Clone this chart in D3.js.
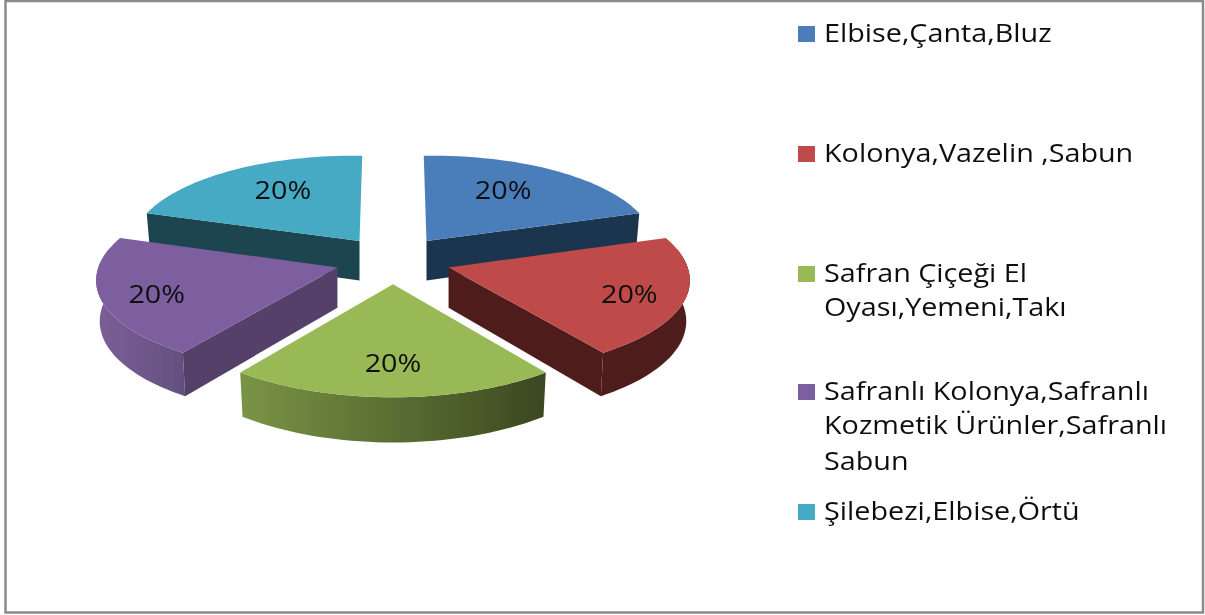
<!DOCTYPE html>
<html>
<head>
<meta charset="utf-8">
<script src="https://cdn.jsdelivr.net/npm/d3@7"></script>
<style>
  html, body { margin: 0; padding: 0; background: #fff; }
  svg { display: block; }
  text { font-family: "Open Sans", sans-serif; fill: #111; }
</style>
</head>
<body>
<svg></svg>
<script>
const categories = [
    ['Elbise,Çanta,Bluz'],
    ['Kolonya,Vazelin ,Sabun'],
    ['Safran Çiçeği El', 'Oyası,Yemeni,Takı'],
    ['Safranlı Kolonya,Safranlı', 'Kozmetik Ürünler,Safranlı', 'Sabun'],
    ['Şilebezi,Elbise,Örtü']
];
const values = [20, 20, 20, 20, 20];
const percentLabels = ['20%', '20%', '20%', '20%', '20%'];

const topColors = ['#4a7ebb', '#be4b48', '#98b954', '#7d5f9f', '#46aac4'];
const edgeColors = ['#1f3550', '#4f1f1e', '#3d4c22', '#55416a', '#1d444f'];
const rimFrom = ['#1f3550', '#4f1f1e', '#7a9445', '#7b5f98', '#1d444f'];
const rimTo = ['#1f3550', '#4f1f1e', '#3a4820', '#64507f', '#1d444f'];
const labelRadius = [0.6, 0.78, 0.7, 0.78, 0.6];
const labelDrop = [1, 12, 12, 12, 1];
const legendBaselines = [[42], [162], [282, 316], [400, 434, 470], [520]];

const svgWidth = 1205;
const svgHeight = 615;
const center = { x: 393, y: 260 };
const R = 235;
const tilt = 0.41;
const persp = 0.000386;
const depth = 40;
const explode = 58;
const rimBulge = 0.015;
const textStretch = 1.15;

const svg = d3.select('svg')
    .attr('width', svgWidth)
    .attr('height', svgHeight);

const defs = svg.append('defs');

defs.append('filter')
    .attr('id', 'soft')
    .attr('x', 0).attr('y', 0).attr('width', 1).attr('height', 1)
    .append('feGaussianBlur')
    .attr('stdDeviation', 0.5);

const chart = svg.append('g').attr('filter', 'url(#soft)');

chart.append('rect')
    .attr('width', svgWidth)
    .attr('height', svgHeight)
    .attr('fill', '#fff');

// outer frame
chart.append('rect')
    .attr('x', 5.5)
    .attr('y', 1)
    .attr('width', 1197.5)
    .attr('height', 611.5)
    .attr('fill', '#fff')
    .attr('stroke', '#8a8a8a')
    .attr('stroke-width', 2.5);

const slices = d3.pie().sort(null).startAngle(0).endAngle(2 * Math.PI)(values);

// pie plane to screen, seen in perspective. mid is the slice direction, r the fraction of the radius
function project(mid, a, r) {
    const X = explode * Math.sin(mid) + R * r * Math.sin(a);
    const Y = explode * Math.cos(mid) + R * r * Math.cos(a);
    const s = 1 / (1 + persp * Y);
    return { x: center.x + X * s, y: center.y - tilt * Y * s, s };
}

function topPoint(mid, a, r) {
    const p = project(mid, a, r);
    return [p.x, p.y];
}

function bottomPoint(mid, a, r) {
    const p = project(mid, a, r);
    const apex = project(mid, a, 0);
    return [apex.x + (p.x - apex.x) * 0.985, p.y + depth * p.s];
}

const line = d3.line();

slices.forEach(d => {
    d.mid = (d.startAngle + d.endAngle) / 2;
});

// back slices first so the front ones cover them
const drawOrder = [4, 0, 3, 1, 2];

chart.selectAll('.slice')
    .data(drawOrder)
    .enter().append('g')
    .attr('class', 'slice')
    .each(function(i) {
        const d = slices[i];
        const g = d3.select(this);
        const arcPoints = d3.range(0, 41).map(k => ({
            a: d.startAngle + (d.endAngle - d.startAngle) * k / 40,
            r: 1 + rimBulge * Math.sin(Math.PI * k / 40)
        }));

        const pts = arcPoints.map(p => topPoint(d.mid, p.a, p.r));
        const xExtent = d3.extent(pts, p => p[0]);
        const grad = defs.append('linearGradient')
            .attr('id', 'rim' + i)
            .attr('gradientUnits', 'userSpaceOnUse')
            .attr('x1', xExtent[0])
            .attr('x2', xExtent[1])
            .attr('y1', 0)
            .attr('y2', 0);
        grad.append('stop').attr('offset', '0%').attr('stop-color', rimFrom[i]);
        grad.append('stop').attr('offset', '100%').attr('stop-color', rimTo[i]);

        // outer rim, the back part of the pie never shows
        const front = arcPoints.filter(p => Math.cos(p.a) < 0.2);
        if (front.length) {
            const rim = front.map(p => topPoint(d.mid, p.a, p.r))
                .concat(front.slice().reverse().map(p => bottomPoint(d.mid, p.a, p.r)));
            g.append('path')
                .attr('d', line(rim) + 'Z')
                .attr('fill', `url(#rim${i})`);
        }

        // cut faces, only the ones turned towards the viewer
        const faces = [];
        if (Math.cos(d.endAngle + Math.PI / 2) < -1e-6) faces.push(d.endAngle);
        if (Math.cos(d.startAngle - Math.PI / 2) < -1e-6) faces.push(d.startAngle);
        faces.forEach(a => {
            const face = [
                topPoint(d.mid, a, 0),
                topPoint(d.mid, a, 1),
                bottomPoint(d.mid, a, 1),
                bottomPoint(d.mid, a, 0)
            ];
            g.append('path')
                .attr('d', line(face) + 'Z')
                .attr('fill', edgeColors[i]);
        });

        // top face
        g.append('path')
            .attr('d', line([topPoint(d.mid, d.mid, 0)].concat(pts)) + 'Z')
            .attr('fill', topColors[i]);
    });

chart.selectAll('.pct')
    .data(slices)
    .enter().append('text')
    .attr('class', 'pct')
    .attr('transform', (d, i) => {
        const p = topPoint(d.mid, d.mid, labelRadius[i]);
        return `translate(${p[0]}, ${p[1] + labelDrop[i]}) scale(${textStretch}, 1)`;
    })
    .attr('text-anchor', 'middle')
    .attr('font-size', '25px')
    .text((d, i) => percentLabels[i]);

const legend = chart.selectAll('.legend')
    .data(categories)
    .enter().append('g')
    .attr('class', 'legend');

legend.append('rect')
    .attr('x', 798)
    .attr('y', (d, i) => legendBaselines[i][0] - 16)
    .attr('width', 17)
    .attr('height', 16)
    .attr('fill', (d, i) => topColors[i]);

legend.each(function(lines, i) {
    d3.select(this).selectAll('text')
        .data(lines)
        .enter().append('text')
        .attr('transform', (t, j) => `translate(824, ${legendBaselines[i][j]}) scale(${textStretch}, 1)`)
        .attr('font-size', '25px')
        .text(t => t);
});
</script>
</body>
</html>
